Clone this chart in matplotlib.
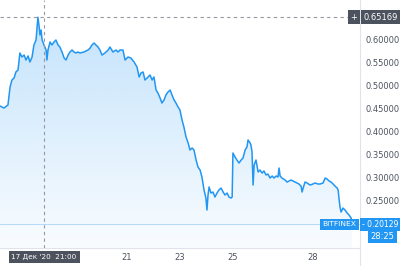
import numpy as np
import matplotlib
matplotlib.use("Agg")
import matplotlib.pyplot as plt

# ---- data (day of December 2020, price) ----
days = [16.21, 16.36, 16.51, 16.59, 16.66, 16.74, 16.81, 16.89, 16.96, 17.04,
        17.12, 17.19, 17.27, 17.34, 17.42, 17.49, 17.57, 17.64, 17.68, 17.72,
        17.76, 17.80, 17.87, 17.95, 17.98, 18.02, 18.10, 18.17, 18.25, 18.32,
        18.40, 18.47, 18.55, 18.63, 18.70, 18.78, 18.85, 18.93, 19.00, 19.08,
        19.15, 19.23, 19.38, 19.53, 19.61, 19.68, 19.76, 19.83, 19.91, 19.98,
        20.06, 20.17, 20.29, 20.36, 20.47, 20.59, 20.66, 20.74, 20.85, 20.93,
        21.04, 21.15, 21.27, 21.38, 21.46, 21.53, 21.61, 21.68, 21.76, 21.87,
        21.95, 22.02, 22.10, 22.17, 22.25, 22.32, 22.40, 22.47, 22.55, 22.63,
        22.70, 22.78, 22.85, 22.93, 23.00, 23.08, 23.15, 23.23, 23.31, 23.38,
        23.46, 23.53, 23.61, 23.68, 23.76, 23.83, 23.91, 23.98, 24.02, 24.06,
        24.10, 24.17, 24.25, 24.32, 24.40, 24.47, 24.55, 24.63, 24.70, 24.78,
        24.85, 24.93, 24.97, 25.00, 25.08, 25.15, 25.23, 25.31, 25.38, 25.46,
        25.53, 25.57, 25.65, 25.68, 25.72, 25.76, 25.80, 25.87, 25.95, 26.02,
        26.10, 26.17, 26.25, 26.32, 26.40, 26.48, 26.55, 26.63, 26.70, 26.74,
        26.78, 26.85, 26.97, 27.04, 27.12, 27.19, 27.27, 27.34, 27.42, 27.49,
        27.57, 27.61, 27.65, 27.72, 27.80, 27.91, 28.02, 28.10, 28.21, 28.29,
        28.40, 28.48, 28.55, 28.63, 28.70, 28.78, 28.85, 28.93, 28.97, 29.00,
        29.04, 29.08, 29.12, 29.15, 29.23, 29.31, 29.38, 29.46, 29.49]
prices = [0.4587, 0.4543, 0.4608, 0.5000, 0.5152, 0.5195, 0.5326, 0.5369, 0.5739, 0.5652,
          0.5695, 0.5587, 0.5674, 0.5543, 0.5652, 0.5913, 0.6021, 0.6517, 0.6348, 0.6130,
          0.6239, 0.6021, 0.5913, 0.5804, 0.5587, 0.5804, 0.5978, 0.5913, 0.5978, 0.6021,
          0.5913, 0.5869, 0.5761, 0.5630, 0.5587, 0.5695, 0.5761, 0.5804, 0.5761, 0.5739,
          0.5761, 0.5739, 0.5761, 0.5804, 0.5847, 0.5913, 0.5956, 0.5913, 0.5869, 0.5804,
          0.5695, 0.5739, 0.5804, 0.5869, 0.5761, 0.5804, 0.5761, 0.5804, 0.5804, 0.5587,
          0.5652, 0.5630, 0.5543, 0.5434, 0.5217, 0.5304, 0.5326, 0.5152, 0.5195, 0.5261,
          0.5152, 0.5217, 0.4934, 0.4869, 0.4761, 0.4652, 0.4717, 0.4826, 0.4891, 0.4934,
          0.4826, 0.4717, 0.4652, 0.4565, 0.4500, 0.4282, 0.4130, 0.3913, 0.3782, 0.3630,
          0.3674, 0.3630, 0.3413, 0.3261, 0.3195, 0.3043, 0.2760, 0.2587, 0.2326, 0.2652,
          0.2826, 0.2695, 0.2717, 0.2608, 0.2695, 0.2760, 0.2804, 0.2717, 0.2652, 0.2695,
          0.2608, 0.2587, 0.2608, 0.3565, 0.3478, 0.3413, 0.3347, 0.3413, 0.3456, 0.3630,
          0.3695, 0.3848, 0.3782, 0.3739, 0.3587, 0.2869, 0.3304, 0.3413, 0.3152, 0.3195,
          0.3130, 0.3174, 0.3087, 0.3108, 0.3021, 0.3065, 0.3021, 0.3065, 0.3043, 0.3239,
          0.3065, 0.3021, 0.2978, 0.2934, 0.2956, 0.2978, 0.2956, 0.2934, 0.2913, 0.2891,
          0.2847, 0.2717, 0.2804, 0.2934, 0.2913, 0.2869, 0.2891, 0.2913, 0.2891, 0.2891,
          0.2913, 0.3021, 0.3000, 0.2956, 0.2934, 0.2891, 0.2847, 0.2804, 0.2760, 0.2587,
          0.2391, 0.2282, 0.2326, 0.2369, 0.2326, 0.2260, 0.2217, 0.2152, 0.20129]

ytick_vals = [0.25, 0.30, 0.35, 0.40, 0.45, 0.50, 0.55, 0.60]
xtick_days = [21, 23, 25, 28]
xtick_labels = ["21", "23", "25", "28"]
cross_day = 17.875
cross_price = 0.65169
cross_label = "17 Дек '20  21:00"
exchange = "BITFINEX"
last_price = 0.20129
countdown = "28:25"

LINE = "#2196F3"
TXT = "#4c525e"
DARK = "#4c525e"

fig = plt.figure(figsize=(4.0, 2.66), dpi=100)
ax = fig.add_axes([0.0, 18/266, 360/400, 248/266])
x0, x1 = 16.21, 16.21 + 360/26.5
y0, y1 = 0.15, 0.6891
ax.set_xlim(x0, x1)
ax.set_ylim(y0, y1)
for s in ax.spines.values():
    s.set_visible(False)
ax.set_xticks([]); ax.set_yticks([])

# gradient fill under line
grad = np.linspace(1, 0, 256).reshape(-1, 1)
rgba = np.zeros((256, 1, 4))
rgba[..., 0] = 33/255; rgba[..., 1] = 150/255; rgba[..., 2] = 243/255
rgba[..., 3] = 0.03 + 0.24 * grad
poly = ax.fill_between(days, prices, y0, color="none", lw=0)
img = ax.imshow(rgba, aspect="auto", extent=[x0, x1, y0, 0.66], origin="upper", zorder=1)
img.set_clip_path(poly.get_paths()[0], transform=ax.transData)

ax.plot(days, prices, color=LINE, lw=1.1, zorder=3)

# last price line
ax.axhline(last_price, color=LINE, lw=0.6, alpha=0.35, zorder=2)
# crosshair
ax.axvline(cross_day, color="#9598a1", lw=0.8, ls=(0, (3, 3)), zorder=4)
ax.plot([x0, x1 - 11/26.5], [cross_price, cross_price], color="#9598a1", lw=0.8,
        ls=(0, (3, 3)), zorder=4)

# frame lines
fig.add_artist(plt.Line2D([360/400, 360/400], [0, 1], color="#e0e3eb", lw=0.8))
fig.add_artist(plt.Line2D([0, 360/400], [18/266, 18/266], color="#e0e3eb", lw=0.8))

def fy(v):
    return 18/266 + (v - y0) / (y1 - y0) * 248/266

def fx(d):
    return (d - x0) / (x1 - x0) * 360/400

fs = 6.0
for v in ytick_vals:
    fig.text(365/400, fy(v), f"{v:.5f}", fontsize=fs, color=TXT, va="center", ha="left")
for d, lab in zip(xtick_days, xtick_labels):
    fig.text(fx(d), 8/266, lab, fontsize=fs, color=TXT, va="center", ha="center")

# crosshair price label
fig.text(363/400, fy(cross_price), f"{cross_price:.5f}", fontsize=fs, color="white",
         va="center", ha="left",
         bbox=dict(boxstyle="square,pad=0.3", fc=DARK, ec="none"))
fig.text(354/400, fy(cross_price), "+", fontsize=fs, color="white", va="center", ha="center",
         bbox=dict(boxstyle="square,pad=0.3", fc=DARK, ec="none"))
# crosshair date label
fig.text(fx(cross_day), 9/266, cross_label, fontsize=5.2, color="white", va="center",
         ha="center", bbox=dict(boxstyle="square,pad=0.4", fc=DARK, ec="none"))

# last price labels
fig.text(356/400, fy(last_price), exchange, fontsize=5.4, color="white", va="center",
         ha="right", bbox=dict(boxstyle="square,pad=0.35", fc=LINE, ec="none"))
fig.text(362/400, fy(last_price), "- " + f"{last_price:.5f}", fontsize=5.5, color="white",
         va="center", ha="left", bbox=dict(boxstyle="square,pad=0.3", fc=LINE, ec="none"))
fig.text(394/400, fy(last_price) - 12/266, countdown, fontsize=fs, color="white", va="center",
         ha="right", bbox=dict(boxstyle="square,pad=0.3", fc=LINE, ec="none"))

fig.savefig("out.png", dpi=100, facecolor="white")
